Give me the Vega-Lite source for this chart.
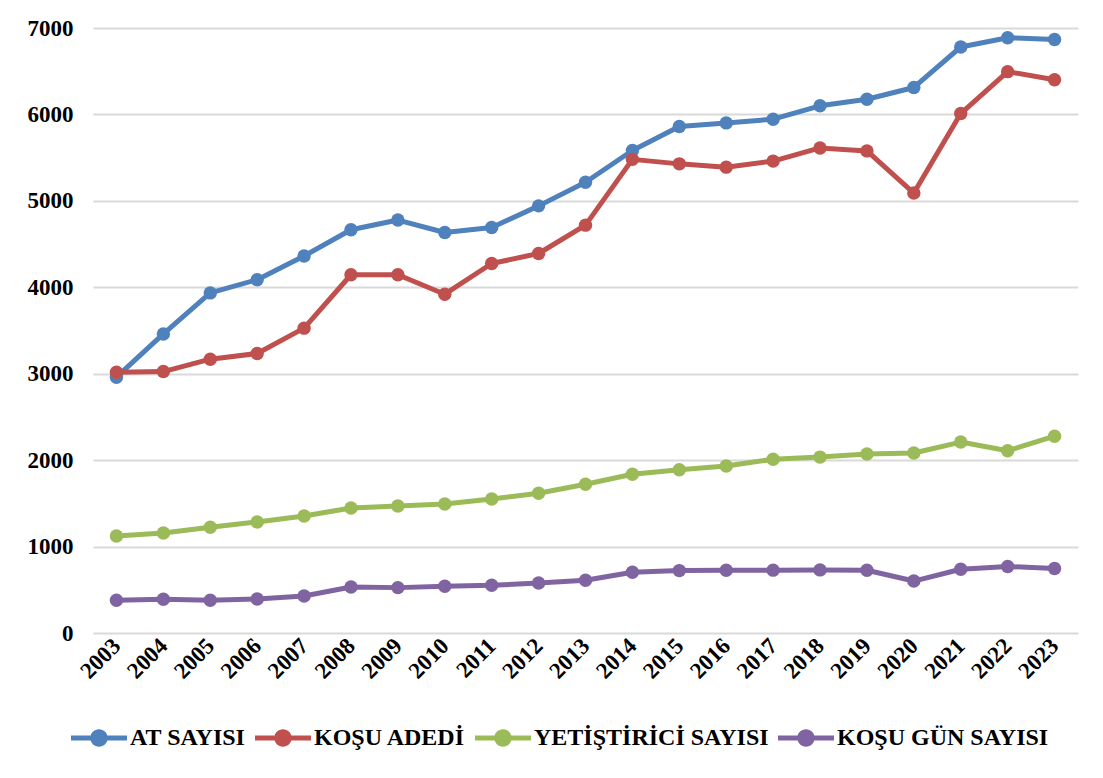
{
  "$schema": "https://vega.github.io/schema/vega-lite/v6.json",
  "width": 985,
  "height": 605,
  "autosize": {"type": "none"},
  "padding": {"left": 93, "top": 28, "right": 25, "bottom": 145},
  "background": "white",
  "config": {
    "view": {"stroke": null},
    "font": "Liberation Serif"
  },
  "data": {
    "values": [
      {"yil": "2003", "AT SAYISI": 2960, "KOŞU ADEDİ": 3017, "YETİŞTİRİCİ SAYISI": 1123, "KOŞU GÜN SAYISI": 378},
      {"yil": "2004", "AT SAYISI": 3460, "KOŞU ADEDİ": 3025, "YETİŞTİRİCİ SAYISI": 1157, "KOŞU GÜN SAYISI": 390},
      {"yil": "2005", "AT SAYISI": 3935, "KOŞU ADEDİ": 3168, "YETİŞTİRİCİ SAYISI": 1223, "KOŞU GÜN SAYISI": 378},
      {"yil": "2006", "AT SAYISI": 4088, "KOŞU ADEDİ": 3234, "YETİŞTİRİCİ SAYISI": 1285, "KOŞU GÜN SAYISI": 394},
      {"yil": "2007", "AT SAYISI": 4362, "KOŞU ADEDİ": 3527, "YETİŞTİRİCİ SAYISI": 1354, "KOŞU GÜN SAYISI": 428},
      {"yil": "2008", "AT SAYISI": 4666, "KOŞU ADEDİ": 4145, "YETİŞTİRİCİ SAYISI": 1447, "KOŞU GÜN SAYISI": 532},
      {"yil": "2009", "AT SAYISI": 4778, "KOŞU ADEDİ": 4145, "YETİŞTİRİCİ SAYISI": 1470, "KOŞU GÜN SAYISI": 525},
      {"yil": "2010", "AT SAYISI": 4634, "KOŞU ADEDİ": 3920, "YETİŞTİRİCİ SAYISI": 1493, "KOŞU GÜN SAYISI": 540},
      {"yil": "2011", "AT SAYISI": 4692, "KOŞU ADEDİ": 4275, "YETİŞTİRİCİ SAYISI": 1551, "KOŞU GÜN SAYISI": 552},
      {"yil": "2012", "AT SAYISI": 4942, "KOŞU ADEDİ": 4391, "YETİŞTİRİCİ SAYISI": 1617, "KOŞU GÜN SAYISI": 579},
      {"yil": "2013", "AT SAYISI": 5215, "KOŞU ADEDİ": 4719, "YETİŞTİRİCİ SAYISI": 1721, "KOŞU GÜN SAYISI": 610},
      {"yil": "2014", "AT SAYISI": 5583, "KOŞU ADEDİ": 5480, "YETİŞTİRİCİ SAYISI": 1837, "KOŞU GÜN SAYISI": 702},
      {"yil": "2015", "AT SAYISI": 5861, "KOŞU ADEDİ": 5428, "YETİŞTİRİCİ SAYISI": 1888, "KOŞU GÜN SAYISI": 722},
      {"yil": "2016", "AT SAYISI": 5902, "KOŞU ADEDİ": 5390, "YETİŞTİRİCİ SAYISI": 1932, "KOŞU GÜN SAYISI": 726},
      {"yil": "2017", "AT SAYISI": 5945, "KOŞU ADEDİ": 5460, "YETİŞTİRİCİ SAYISI": 2010, "KOŞU GÜN SAYISI": 727},
      {"yil": "2018", "AT SAYISI": 6100, "KOŞU ADEDİ": 5612, "YETİŞTİRİCİ SAYISI": 2035, "KOŞU GÜN SAYISI": 730},
      {"yil": "2019", "AT SAYISI": 6176, "KOŞU ADEDİ": 5578, "YETİŞTİRİCİ SAYISI": 2072, "KOŞU GÜN SAYISI": 726},
      {"yil": "2020", "AT SAYISI": 6312, "KOŞU ADEDİ": 5090, "YETİŞTİRİCİ SAYISI": 2083, "KOŞU GÜN SAYISI": 601},
      {"yil": "2021", "AT SAYISI": 6780, "KOŞU ADEDİ": 6010, "YETİŞTİRİCİ SAYISI": 2209, "KOŞU GÜN SAYISI": 738},
      {"yil": "2022", "AT SAYISI": 6888, "KOŞU ADEDİ": 6495, "YETİŞTİRİCİ SAYISI": 2109, "KOŞU GÜN SAYISI": 770},
      {"yil": "2023", "AT SAYISI": 6866, "KOŞU ADEDİ": 6402, "YETİŞTİRİCİ SAYISI": 2277, "KOŞU GÜN SAYISI": 746}
    ]
  },
  "transform": [
    {"fold": ["AT SAYISI", "KOŞU ADEDİ", "YETİŞTİRİCİ SAYISI", "KOŞU GÜN SAYISI"], "as": ["seri", "deger"]}
  ],
  "mark": {
    "type": "line",
    "strokeWidth": 5,
    "strokeJoin": "round",
    "strokeCap": "round",
    "point": {"filled": true, "size": 180, "opacity": 1}
  },
  "encoding": {
    "x": {
      "field": "yil",
      "type": "ordinal",
      "scale": {"type": "point", "padding": 0.5},
      "axis": {
        "title": null,
        "domain": false,
        "ticks": false,
        "grid": false,
        "labelAngle": -45,
        "labelAlign": "right",
        "labelBaseline": "middle",
        "labelPadding": 9,
        "labelFont": "Liberation Serif",
        "labelFontWeight": "bold",
        "labelFontSize": 23,
        "labelColor": "black"
      }
    },
    "y": {
      "field": "deger",
      "type": "quantitative",
      "scale": {"domain": [0, 7000], "nice": false, "zero": true},
      "axis": {
        "title": null,
        "values": [0, 1000, 2000, 3000, 4000, 5000, 6000, 7000],
        "format": "d",
        "domain": false,
        "ticks": false,
        "grid": true,
        "gridColor": "#d9d9d9",
        "gridWidth": 2,
        "labelPadding": 20,
        "labelFont": "Liberation Serif",
        "labelFontWeight": "bold",
        "labelFontSize": 23,
        "labelColor": "black",
        "labelBaseline": "middle"
      }
    },
    "color": {
      "field": "seri",
      "type": "nominal",
      "scale": {
        "domain": ["AT SAYISI", "KOŞU ADEDİ", "YETİŞTİRİCİ SAYISI", "KOŞU GÜN SAYISI"],
        "range": ["#4F81BD", "#C0504D", "#9BBB59", "#8064A2"]
      },
      "legend": {
        "title": null,
        "orient": "none",
        "direction": "horizontal",
        "legendX": -22,
        "legendY": 682,
        "symbolType": "M-1,-0.09L1,-0.09L1,0.09L-1,0.09Z M-0.31,0A0.31,0.31 0 1,1 0.31,0A0.31,0.31 0 1,1 -0.31,0Z",
        "symbolSize": 3136,
        "symbolStrokeWidth": 0,
        "symbolOpacity": 1,
        "labelFont": "Liberation Serif",
        "labelFontWeight": "bold",
        "labelFontSize": 24,
        "labelColor": "black",
        "labelOffset": 3,
        "labelLimit": 400,
        "columnPadding": 9,
        "padding": 0,
        "encode": {
          "symbols": {
            "update": {
              "fill": {"scale": "color", "field": "value"},
              "fillOpacity": {"value": 1}
            }
          }
        }
      }
    }
  }
}
